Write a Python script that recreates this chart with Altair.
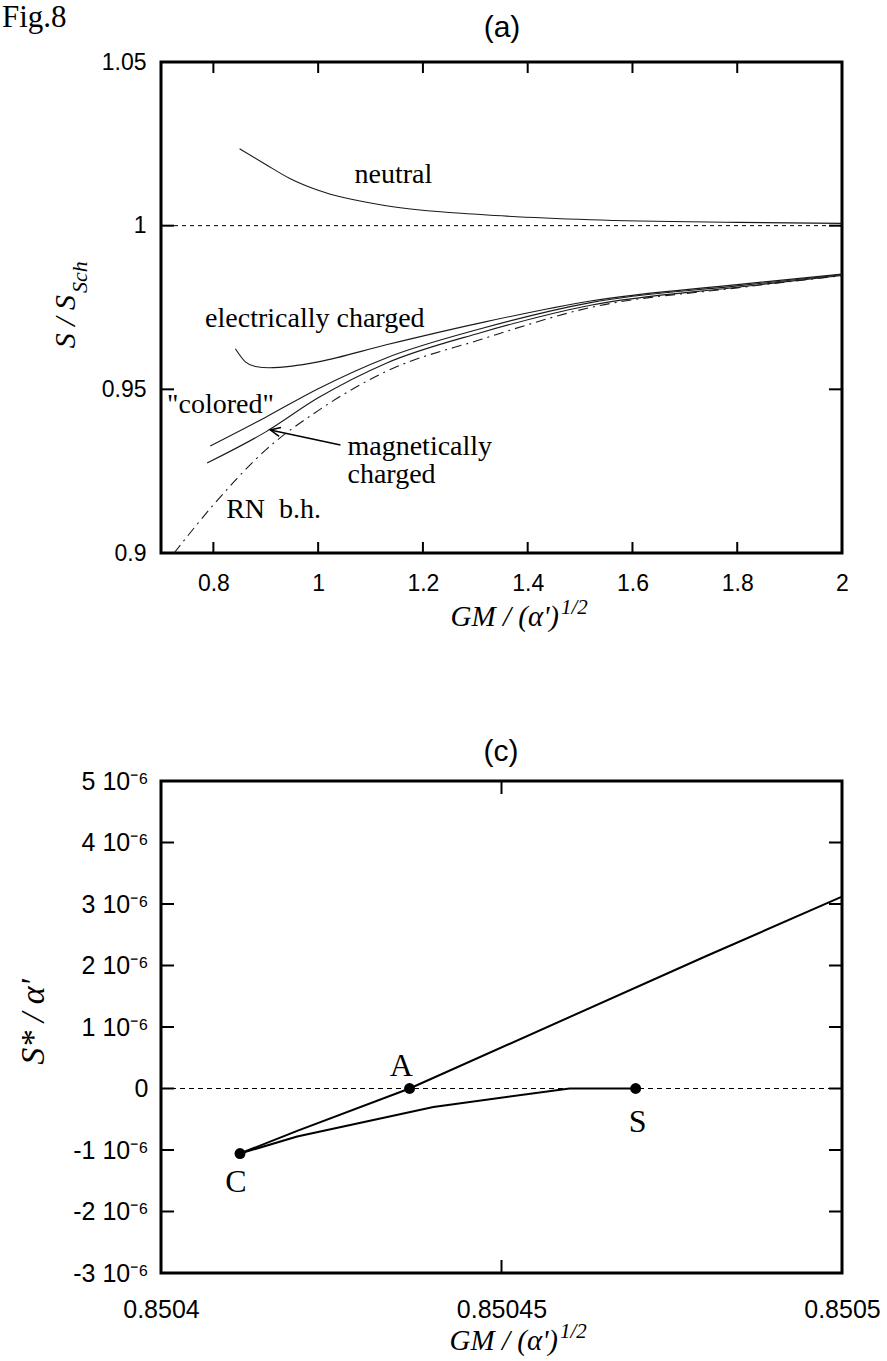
import altair as alt
import pandas as pd

SERIF = "Liberation Serif"
SANS = "Liberation Sans"

# ---------------- panel (a) ----------------
A_X_DOMAIN = [0.7, 2.0]
A_Y_DOMAIN = [0.9, 1.05]
A_X_TICKS = [0.8, 1.0, 1.2, 1.4, 1.6, 1.8, 2.0]
A_Y_TICKS = [0.9, 0.95, 1.0, 1.05]
A_REF = [1.0]

neutral_x = [0.85, 0.9, 0.945, 1.0, 1.13, 1.31, 1.52, 1.8, 2.0]
neutral_y = [1.0235, 1.0187, 1.0145, 1.0108, 1.0061, 1.0034, 1.0018, 1.0010, 1.0007]
elec_x = [0.842, 0.861, 0.88, 0.907, 0.95, 1.0, 1.13, 1.31, 1.52, 1.8, 2.0]
elec_y = [0.9624, 0.9584, 0.9570, 0.9566, 0.9571, 0.9584, 0.9636, 0.9703, 0.9770, 0.9820, 0.9852]
col_x = [0.794, 0.9, 1.0, 1.13, 1.31, 1.52, 1.8, 2.0]
col_y = [0.9327, 0.9415, 0.9502, 0.9596, 0.9685, 0.9765, 0.9816, 0.9850]
mag_x = [0.788, 0.9, 1.0, 1.13, 1.31, 1.52, 1.8, 2.0]
mag_y = [0.9275, 0.9370, 0.9474, 0.9580, 0.9673, 0.9757, 0.9812, 0.9848]
rn_x = [0.725, 0.8, 0.9, 1.0, 1.13, 1.31, 1.52, 1.8, 2.0]
rn_y = [0.9000, 0.9147, 0.9315, 0.9435, 0.9555, 0.9652, 0.9750, 0.9810, 0.9847]

A_LABELS = ["neutral", "electrically charged", "\"colored\"", "magnetically", "charged", "RN\u00a0\u00a0b.h."]
A_LABEL_X = [1.0694, 0.7842, 0.7115, 1.056, 1.056, 0.8244]
A_LABEL_Y = [1.01315, 0.9691, 0.9428, 0.92997, 0.92141, 0.9107]

ARROW_TAIL = [1.0426, 0.9330]
ARROW_TIP = [0.9086, 0.9376]

# ---------------- panel (c) ----------------
C_X_DOMAIN = [0.8504, 0.8505]
C_Y_DOMAIN = [-3e-6, 5e-6]
C_X_TICKS = [0.8504, 0.85045, 0.8505]
C_Y_TICKS = [-3e-6, -2e-6, -1e-6, 0.0, 1e-6, 2e-6, 3e-6, 4e-6, 5e-6]
C_REF = [0.0]

upper_x = [0.8504116, 0.85042, 0.8504365, 0.85048, 0.8505]
upper_y = [-1.057e-6, -0.69e-6, 0.0, 2.15e-6, 3.12e-6]
lower_x = [0.8504116, 0.85042, 0.85044, 0.85046, 0.8504697]
lower_y = [-1.057e-6, -0.78e-6, -0.30e-6, 0.0, 0.0]

PT_NAMES = ["C", "A", "S"]
PT_X = [0.8504116, 0.8504365, 0.8504697]
PT_Y = [-1.057e-6, 0.0, 0.0]
PT_LABEL_X = [0.8504110, 0.8504353, 0.8504700]
PT_LABEL_Y = [-1.69e-6, 0.21e-6, -0.715e-6]

W = 681
HA = 491
HC = 492


def long_df(series):
    rows = []
    for name, xs, ys in series:
        for i, (x, y) in enumerate(zip(xs, ys)):
            rows.append({"series": name, "x": x, "y": y, "i": i})
    return pd.DataFrame(rows)


def make_axis(values, size, pad, fmt=None, expr=None):
    kw = dict(values=values, title=None, grid=False, domain=False, ticks=False, tickSize=0,
              labelFont=SANS, labelFontSize=size, labelColor="black", labelPadding=pad,
              labelFlush=False, labelOverlap=False)
    if fmt:
        kw["format"] = fmt
    if expr:
        kw["labelExpr"] = expr
    return alt.Axis(**kw)


ax_a_x = make_axis(A_X_TICKS, 23, 19, fmt="~g")
ax_a_y = make_axis(A_Y_TICKS, 23, 15, fmt="~g")
ax_c_x = make_axis(C_X_TICKS, 25, 24, fmt="~g")
ax_c_y = make_axis(C_Y_TICKS, 25, 13,
                   expr="abs(datum.value) < 1e-12 ? '0' : (datum.value < 0 ? '-' : '') + "
                        "format(abs(datum.value) * 1e6, 'd') + ' 10\u207b\u2076'")


def XA():
    return alt.X("x:Q", scale=alt.Scale(domain=A_X_DOMAIN, nice=False, zero=False), axis=ax_a_x)


def YA():
    return alt.Y("y:Q", scale=alt.Scale(domain=A_Y_DOMAIN, nice=False, zero=False), axis=ax_a_y)


def XC():
    return alt.X("x:Q", scale=alt.Scale(domain=C_X_DOMAIN, nice=False, zero=False), axis=ax_c_x)


def YC():
    return alt.Y("y:Q", scale=alt.Scale(domain=C_Y_DOMAIN, nice=False, zero=False), axis=ax_c_y)


def ticks(XF, YF, xt, yt, w, h, lx, ly, top_ticks):
    dy = pd.DataFrame({"y": yt})
    dx = pd.DataFrame({"x": xt})
    dtop = pd.DataFrame({"x": top_ticks})
    st = dict(color="black", strokeWidth=2)
    left = alt.Chart(dy).mark_rule(**st).encode(y=YF(), x=alt.value(0), x2=alt.value(ly))
    right = alt.Chart(dy).mark_rule(**st).encode(y=YF(), x=alt.value(w - ly), x2=alt.value(w))
    bottom = alt.Chart(dx).mark_rule(**st).encode(x=XF(), y=alt.value(h - lx), y2=alt.value(h))
    top = alt.Chart(dtop).mark_rule(**st).encode(x=XF(), y=alt.value(0), y2=alt.value(lx))
    return [left, right, bottom, top]


def ptext(text, x, y, size, align="left", angle=0, italic=True, font=SERIF):
    kw = dict(font=font, fontSize=size, align=align, baseline="alphabetic", color="black")
    if italic:
        kw["fontStyle"] = "italic"
    if angle:
        kw["angle"] = angle
    return alt.Chart(pd.DataFrame({"t": [text]})).mark_text(**kw).encode(
        text="t:N", x=alt.value(x), y=alt.value(y))


# ----- panel (a)
solid_a = long_df([("neutral", neutral_x, neutral_y), ("electric", elec_x, elec_y),
                   ("colored", col_x, col_y), ("magnetic", mag_x, mag_y)])
rn_df = long_df([("RN", rn_x, rn_y)])

a_lines = alt.Chart(solid_a).mark_line(color="#1a1a1a", strokeWidth=1.1, interpolate="monotone").encode(
    x=XA(), y=YA(), detail="series:N", order="i:Q")
a_rn = alt.Chart(rn_df).mark_line(color="#1a1a1a", strokeWidth=1.1, interpolate="monotone",
                                  strokeDash=[10, 5, 2, 5]).encode(x=XA(), y=YA(), order="i:Q")
a_ref = alt.Chart(pd.DataFrame({"y": A_REF})).mark_rule(color="black", strokeWidth=1,
                                                       strokeDash=[4, 4]).encode(y=YA())
a_text = alt.Chart(pd.DataFrame({"label": A_LABELS, "x": A_LABEL_X, "y": A_LABEL_Y})).mark_text(
    font=SERIF, fontSize=28, align="left", baseline="alphabetic", color="black").encode(
    x=XA(), y=YA(), text="label:N")
arrow_df = pd.DataFrame({"x": [ARROW_TAIL[0]], "y": [ARROW_TAIL[1]],
                         "x2": [ARROW_TIP[0]], "y2": [ARROW_TIP[1]]})
a_arrow = alt.Chart(arrow_df).mark_rule(color="black", strokeWidth=1.5).encode(
    x=XA(), y=YA(), x2="x2:Q", y2="y2:Q")
a_head = alt.Chart(pd.DataFrame({"x": [ARROW_TIP[0]], "y": [ARROW_TIP[1]]})).mark_point(
    shape="M -0.45 1 L 0 0 L 0.45 1", filled=False, size=400, strokeWidth=1.5, color="black",
    opacity=1, angle=282).encode(x=XA(), y=YA())

a_layers = [a_lines, a_rn, a_ref, a_text, a_arrow, a_head]
a_layers += ticks(XA, YA, A_X_TICKS, A_Y_TICKS, W, HA, 11, 13, A_X_TICKS)
a_layers += [
    ptext("Fig.8", -159, -35, 31, italic=False),
    ptext("(a)", 341, -25, 30, align="center", italic=False, font=SANS),
    ptext("S / S", -86, 233, 30, align="right", angle=270),
    ptext("Sch", -74, 231, 22, align="left", angle=270),
    ptext("GM / (\u03b1')", 398, 564, 29, align="right"),
    ptext("1/2", 400, 552, 21, align="left"),
]

panel_a = alt.layer(*a_layers).properties(width=W, height=HA)

# ----- panel (c)
c_df = long_df([("upper", upper_x, upper_y), ("lower", lower_x, lower_y)])
c_lines = alt.Chart(c_df).mark_line(color="black", strokeWidth=2).encode(
    x=XC(), y=YC(), detail="series:N", order="i:Q")
c_ref = alt.Chart(pd.DataFrame({"y": C_REF})).mark_rule(color="black", strokeWidth=1,
                                                       strokeDash=[5, 4]).encode(y=YC())
c_pts = alt.Chart(pd.DataFrame({"x": PT_X, "y": PT_Y})).mark_point(
    shape="circle", filled=True, size=120, color="black", opacity=1).encode(x=XC(), y=YC())
c_text = alt.Chart(pd.DataFrame({"label": PT_NAMES, "x": PT_LABEL_X, "y": PT_LABEL_Y})).mark_text(
    font=SERIF, fontSize=32, align="center", baseline="alphabetic", color="black").encode(
    x=XC(), y=YC(), text="label:N")

c_layers = [c_ref, c_lines, c_pts, c_text]
c_layers += ticks(XC, YC, [0.85045], C_Y_TICKS, W, HC, 13, 13, [0.85045])
c_layers += [
    ptext("(c)", 340, -20, 30, align="center", italic=False, font=SANS),
    ptext("S* / \u03b1'", -117, 241, 34, align="center", angle=270),
    ptext("GM / (\u03b1')", 397, 569, 29, align="right"),
    ptext("1/2", 399, 557, 21, align="left"),
]

panel_c = alt.layer(*c_layers).properties(width=W, height=HC)

chart = alt.vconcat(panel_a, panel_c, spacing=101).properties(
    padding={"left": 0, "top": 0, "right": 0, "bottom": 0},
    background="white",
).configure_view(stroke="black", strokeWidth=3, fill="white")

chart.save("out.html", embed_options={"renderer": "svg", "actions": False})
